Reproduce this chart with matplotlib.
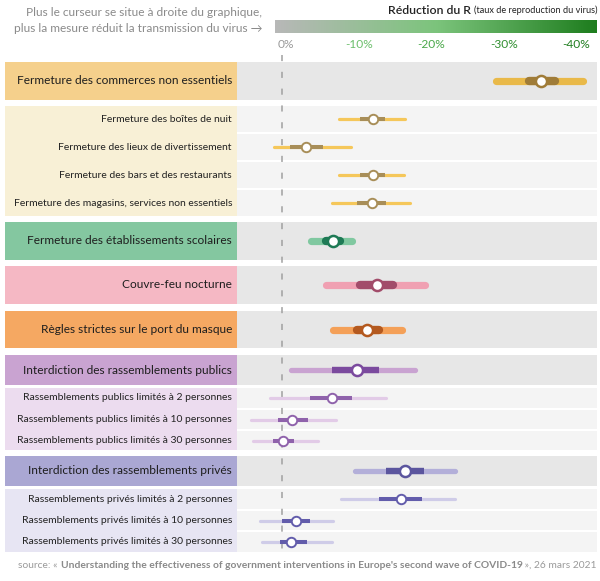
import numpy as np
import matplotlib
matplotlib.use("Agg")
import matplotlib.pyplot as plt
from matplotlib.patches import Rectangle
from matplotlib.colors import LinearSegmentedColormap

plt.rcParams["font.family"] = ["Lato", "DejaVu Sans"]

# --- data (reduction of R, in %) ---
labels = [
    "Fermeture des commerces non essentiels",
    "Fermeture des boîtes de nuit",
    "Fermeture des lieux de divertissement",
    "Fermeture des bars et des restaurants",
    "Fermeture des magasins, services non essentiels",
    "Fermeture des établissements scolaires",
    "Couvre-feu nocturne",
    "Règles strictes sur le port du masque",
    "Interdiction des rassemblements publics",
    "Rassemblements publics limités à 2 personnes",
    "Rassemblements publics limités à 10 personnes",
    "Rassemblements publics limités à 30 personnes",
    "Interdiction des rassemblements privés",
    "Rassemblements privés limités à 2 personnes",
    "Rassemblements privés limités à 10 personnes",
    "Rassemblements privés limités à 30 personnes",
]
point = [35.7, 12.5, 3.3, 12.5, 12.4, 7.0, 13.1, 11.7, 10.3, 6.9, 1.4, 0.1, 16.9, 16.4, 1.9, 1.3]
low = [29.5, 7.8, -1.1, 7.8, 6.9, 4.0, 6.1, 7.0, 1.3, -1.6, -4.3, -4.0, 10.1, 8.1, -3.0, -2.8]
high = [41.5, 17.0, 9.5, 16.8, 17.6, 9.7, 19.7, 16.5, 18.3, 14.4, 7.4, 4.9, 23.8, 23.9, 7.1, 6.9]
core_low = [34.0, 10.8, 1.1, 10.8, 10.3, 6.0, 10.8, 10.4, 6.9, 3.9, -0.6, -1.2, 14.3, 13.4, 0.0, -0.3]
core_high = [37.7, 14.2, 5.7, 14.2, 14.4, 8.0, 15.3, 13.4, 13.4, 9.7, 3.6, 1.7, 19.6, 19.3, 3.9, 3.4]
ticks = [0, 10, 20, 30, 40]
tick_labels = ["0%", "-10%", "-20%", "-30%", "-40%"]

# --- layout (pixels) ---
bands = [(62, 100), (106, 132), (134, 160), (162, 188), (190, 216), (222, 260), (266, 304),
         (311, 348), (355, 385), (388, 408), (410, 429), (431, 450), (456, 486), (489, 509),
         (511, 530), (532, 552)]
is_main = [1, 0, 0, 0, 0, 1, 1, 1, 1, 0, 0, 0, 1, 0, 0, 0]
group = [0, 0, 0, 0, 0, 1, 2, 3, 4, 4, 4, 4, 5, 5, 5, 5]

box_col = ["#f5d08c", "#84c7a0", "#f5b8c4", "#f5a862", "#c9a3d1", "#aaa7d3"]
sub_col = ["#f8f0d6", None, None, None, "#ecdcef", "#e7e5f3"]
light_col = ["#e9b949", "#80c8a0", "#f0a0b2", "#f4a058", "#c9a3d1", "#b3afd9"]
sub_light = ["#f5c75a", None, None, None, "#e2cbe7", "#cfcce8"]
dark_col = ["#a07c38", "#1e7a55", "#a24c6a", "#b4591f", "#7b4a9e", "#5b559e"]
sub_dark = ["#a88e58", None, None, None, "#8f62ab", "#625cab"]

X0 = 282.0
PPP = 7.25  # pixels per percent
W, H = 600, 581


def v(px):
    return (px - X0) / PPP


fig = plt.figure(figsize=(6, 5.81), dpi=100)
ax = fig.add_axes([0, 0, 1, 1])
ax.set_xlim(v(0), v(W))
ax.set_ylim(H, 0)
ax.axis("off")

# backgrounds and left boxes
for i, (t, b) in enumerate(bands):
    g = group[i]
    ax.add_patch(Rectangle((v(237), t), v(597) - v(237), b - t,
                           color="#e7e7e7" if is_main[i] else "#f4f4f4", lw=0, zorder=0))
    if is_main[i]:
        ax.add_patch(Rectangle((v(5), t), v(237) - v(5), b - t, color=box_col[g], lw=0, zorder=0))

for g in [0, 4, 5]:
    idx = [i for i in range(len(labels)) if group[i] == g and not is_main[i]]
    t = bands[idx[0]][0]
    b = bands[idx[-1]][1]
    ax.add_patch(Rectangle((v(5), t), v(237) - v(5), b - t, color=sub_col[g], lw=0, zorder=0))

# zero line
ax.plot([0, 0], [55, 556], color="#a0a0a0", lw=1.1, ls=(0, (4, 7)), zorder=1)

for i, lab in enumerate(labels):
    g = group[i]
    t, b = bands[i]
    y = (t + b) / 2
    if is_main[i]:
        ax.text(v(232), y, lab, ha="right", va="center", fontsize=8.6, color="#1e1e1e")
        lw = 5.2 if g < 4 else 3.8
        ax.plot([low[i], high[i]], [y, y], color=light_col[g], lw=lw,
                solid_capstyle="round", zorder=2)
        ax.plot([core_low[i], core_high[i]], [y, y], color=dark_col[g], lw=lw + 0.8,
                solid_capstyle="round" if g < 4 else "butt", zorder=3)
        ax.plot(point[i], y, "o", ms=8, mfc="white", mec=dark_col[g], mew=1.8, zorder=4)
    else:
        ax.text(v(232), y, lab, ha="right", va="center", fontsize=7.45, color="#222222")
        ax.plot([low[i], high[i]], [y, y], color=sub_light[g], lw=2.3,
                solid_capstyle="round", zorder=2)
        ax.plot([core_low[i], core_high[i]], [y, y], color=sub_dark[g], lw=2.9,
                solid_capstyle="butt", zorder=3)
        ax.plot(point[i], y, "o", ms=6.8, mfc="white", mec=sub_dark[g], mew=1.4, zorder=4)

# header: gradient bar and scale
cmap = LinearSegmentedColormap.from_list("red", ["#b8b8b8", "#7cc47c", "#1e7d1e"])
grad = np.linspace(0, 1, 256).reshape(1, -1)
ax.imshow(grad, cmap=cmap, extent=(v(275), v(597), 33, 20), aspect="auto", zorder=1)
tick_cols = ["#9a9a9a", "#6cbf6c", "#4aa84a", "#2f8f2f", "#1e7d1e"]
for tk, tl, c in zip(ticks, tick_labels, tick_cols):
    ax.text(tk + 0.6, 45, tl, ha="center", va="center", fontsize=8.6, color=c)

t2 = ax.text(v(597), 10, "(taux de reproduction du virus)", ha="right", va="center",
             fontsize=6.6, color="#222222")
ax.annotate("Réduction du R ", xy=(0, 0.5), xycoords=t2, ha="right", va="center",
            fontsize=8.8, color="#222222", fontweight="semibold")

ax.text(v(262), 12, "Plus le curseur se situe à droite du graphique,", ha="right",
        va="center", fontsize=8.6, color="#8a8a8a")
ax.text(v(262), 28, "plus la mesure réduit la transmission du virus →", ha="right",
        va="center", fontsize=8.6, color="#8a8a8a")

# source line
s3 = ax.text(v(597), 565, " », 26 mars 2021", ha="right", va="center", fontsize=7.4,
             color="#9a9a9a")
s2 = ax.annotate("Understanding the effectiveness of government interventions in Europe's second wave of COVID-19",
                 xy=(0, 0.5), xycoords=s3, ha="right", va="center", fontsize=7.4,
                 color="#8a8a8a", fontweight="bold")
ax.annotate("source: « ", xy=(0, 0.5), xycoords=s2, ha="right", va="center", fontsize=7.4,
            color="#9a9a9a")

fig.savefig("out.png", dpi=100)
